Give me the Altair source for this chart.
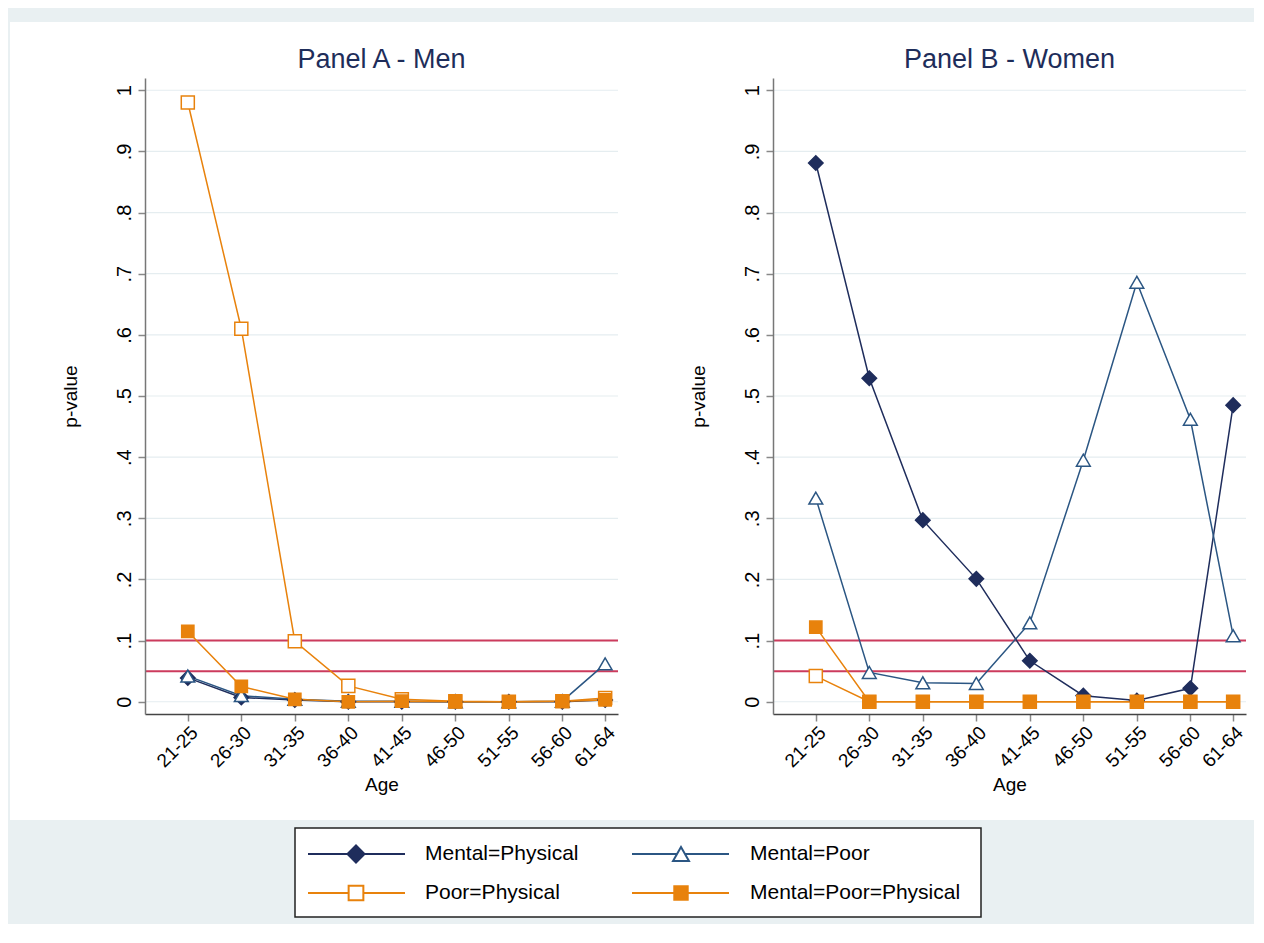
import altair as alt
import pandas as pd

# ---------------- data ----------------
age_groups = ["21-25", "26-30", "31-35", "36-40", "41-45", "46-50", "51-55", "56-60", "61-64"]
age_mid = [23, 28, 33, 38, 43, 48, 53, 58, 62]
series_names = ["Mental=Physical", "Mental=Poor", "Poor=Physical", "Mental=Poor=Physical"]
panel_titles = ["Panel A - Men", "Panel B - Women"]

men_mental_physical = [0.039, 0.007, 0.003, 0.000, 0.000, 0.000, 0.000, 0.000, 0.003]
men_mental_poor = [0.042, 0.010, 0.004, 0.001, 0.001, 0.000, 0.000, 0.001, 0.062]
men_poor_physical = [0.980, 0.610, 0.099, 0.026, 0.004, 0.001, 0.000, 0.001, 0.006]
men_all_equal = [0.115, 0.025, 0.004, 0.000, 0.001, 0.000, 0.000, 0.001, 0.003]

women_mental_physical = [0.881, 0.529, 0.297, 0.201, 0.067, 0.010, 0.002, 0.022, 0.485]
women_mental_poor = [0.333, 0.048, 0.031, 0.030, 0.129, 0.395, 0.686, 0.462, 0.108]
women_poor_physical = [0.042, 0.000, 0.000, 0.000, 0.000, 0.000, 0.000, 0.000, 0.000]
women_all_equal = [0.122, 0.000, 0.000, 0.000, 0.000, 0.000, 0.000, 0.000, 0.000]

thresholds = [0.1, 0.05]
y_ticks = [0, 0.1, 0.2, 0.3, 0.4, 0.5, 0.6, 0.7, 0.8, 0.9, 1.0]

# ---------------- styles ----------------
FONT = "Liberation Sans"
BG = "#e9f0f2"
NAVY = "#1f2d5c"
BLUE = "#2b5683"
ORANGE = "#e8820c"
series_colors = [NAVY, BLUE, ORANGE, ORANGE]
series_shapes = ["diamond", "triangle-up", "square", "square"]
series_fills = [NAVY, "white", "white", ORANGE]
series_sizes = [210, 150, 130, 130]
legend_sizes = [290, 180, 135, 135]

W, H = 473, 636


def long_df(vals):
    rows = []
    for s, v in zip(series_names, vals):
        for a, m, y in zip(age_groups, age_mid, v):
            rows.append({"series": s, "age": a, "age_mid": m, "value": y})
    return pd.DataFrame(rows)


label_expr = ""
for m, a in zip(age_mid, age_groups):
    label_expr += f"datum.value == {m} ? '{a}' : "
label_expr += "''"

x_scale = alt.Scale(domain=[19, 63.2], nice=False, zero=False)
y_scale = alt.Scale(domain=[-0.02, 1.02], nice=False, zero=False)

x_axis = alt.Axis(values=age_mid, labelExpr=label_expr, labelAngle=-45, labelFontSize=19,
                  labelColor="black", labelPadding=2, labelOverlap=False, labelFlush=False,
                  title="Age", titleFontSize=19, titleFontWeight="normal", titleColor="black",
                  titlePadding=5, tickSize=7, tickColor="#888888", tickWidth=1.5,
                  domainColor="#444444", domainWidth=1.5, grid=False, zindex=1)
y_axis = alt.Axis(values=y_ticks,
                  labelExpr="datum.value == 0 ? '0' : datum.value == 1 ? '1' : replace(format(datum.value, '.1f'), '0.', '.')",
                  labelAngle=-90, labelFontSize=20, labelColor="black", labelPadding=4,
                  labelOverlap=False, labelFlush=False,
                  title="p-value", titleFontSize=19, titleFontWeight="normal", titleColor="black",
                  titlePadding=34, tickSize=7, tickColor="#888888", tickWidth=1.5,
                  domainColor="#777777", domainWidth=1.5, grid=False, zindex=1)

color_scale = alt.Scale(domain=series_names, range=series_colors)
shape_scale = alt.Scale(domain=series_names, range=series_shapes)
fill_scale = alt.Scale(domain=series_names, range=series_fills)


def core(vals, title, rect_x, rect_x2):
    df = long_df(vals)
    bg = alt.Chart(pd.DataFrame({"d": [0]})).mark_rect(color="white").encode(
        x=alt.value(rect_x), x2=alt.value(rect_x2), y=alt.value(-56), y2=alt.value(742))
    grid = alt.Chart(pd.DataFrame({"v": y_ticks})).mark_rule(color="#e5edf0", strokeWidth=1.2).encode(
        y=alt.Y("v:Q", scale=y_scale, axis=y_axis), x=alt.value(0), x2=alt.value(W))
    thr = alt.Chart(pd.DataFrame({"v": thresholds})).mark_rule(color="#cc3b5d", strokeWidth=2).encode(
        y=alt.Y("v:Q", scale=y_scale, axis=y_axis), x=alt.value(0), x2=alt.value(W))
    lines = alt.Chart(df).mark_line(strokeWidth=1.5).encode(
        x=alt.X("age_mid:Q", scale=x_scale, axis=x_axis),
        y=alt.Y("value:Q", scale=y_scale, axis=y_axis),
        color=alt.Color("series:N", scale=color_scale, legend=None),
        order="age_mid:Q")
    pts = alt.Chart(df).mark_point(strokeWidth=1.5, opacity=1, fillOpacity=1).encode(
        x=alt.X("age_mid:Q", scale=x_scale, axis=x_axis),
        y=alt.Y("value:Q", scale=y_scale, axis=y_axis),
        shape=alt.Shape("series:N", scale=shape_scale, legend=None),
        stroke=alt.Stroke("series:N", scale=color_scale, legend=None),
        fill=alt.Fill("series:N", scale=fill_scale, legend=None),
        size=alt.Size("series:N", scale=alt.Scale(domain=series_names, range=series_sizes), legend=None))
    ttl = alt.Chart(pd.DataFrame({"t": [title]})).mark_text(
        fontSize=27, color="#1e2d5a", baseline="alphabetic", align="center").encode(
        x=alt.value(W / 2), y=alt.value(-10), text="t:N")
    return alt.layer(bg, grid, thr, lines, pts, ttl)


# ---------------- legend (drawn below panel A, positions relative to panel A plot) ----------------
LX, LY = 150, 750  # legend box origin relative to panel A plot area
leg = pd.DataFrame({"series": series_names, "col": [0, 1, 0, 1], "row": [0, 0, 1, 1]})
leg["x1"] = LX + 13 + leg["col"] * 324
leg["x2"] = LX + 110 + leg["col"] * 324
leg["xm"] = LX + 61 + leg["col"] * 325
leg["xt"] = LX + 130 + leg["col"] * 325
leg["y"] = LY + 26 + leg["row"] * 39

leg_box = alt.Chart(pd.DataFrame({"d": [0]})).mark_rect(
    fill="white", stroke="#222222", strokeWidth=1.5).encode(
    x=alt.value(LX), x2=alt.value(LX + 686), y=alt.value(LY), y2=alt.value(LY + 89))
leg_lines = alt.Chart(leg).mark_rule(strokeWidth=2).encode(
    x=alt.X("x1:Q", scale=None), x2="x2:Q", y=alt.Y("y:Q", scale=None),
    color=alt.Color("series:N", scale=color_scale, legend=None))
leg_pts = alt.Chart(leg).mark_point(strokeWidth=2, opacity=1, fillOpacity=1).encode(
    x=alt.X("xm:Q", scale=None), y=alt.Y("y:Q", scale=None),
    shape=alt.Shape("series:N", scale=shape_scale, legend=None),
    stroke=alt.Stroke("series:N", scale=color_scale, legend=None),
    fill=alt.Fill("series:N", scale=fill_scale, legend=None),
    size=alt.Size("series:N", scale=alt.Scale(domain=series_names, range=legend_sizes), legend=None))
leg_text = alt.Chart(leg).mark_text(align="left", baseline="middle", fontSize=21, color="black").encode(
    x=alt.X("xt:Q", scale=None), y=alt.Y("y:Q", scale=None), text="series:N")
legend_layer = alt.layer(leg_box, leg_lines, leg_pts, leg_text)

pA = alt.layer(
    core([men_mental_physical, men_mental_poor, men_poor_physical, men_all_equal], panel_titles[0], -135, 545),
    legend_layer,
).resolve_scale(x="independent", y="independent", size="independent").properties(
    width=W, height=H, view=alt.ViewBackground(stroke=None))

pB = core([women_mental_physical, women_mental_poor, women_poor_physical, women_all_equal],
          panel_titles[1], -83, 481).properties(width=W, height=H, view=alt.ViewBackground(stroke=None))

chart = alt.hconcat(pA, pB, spacing=155, bounds="flush").properties(
    background=BG,
    padding={"left": 2, "top": 14, "right": 0, "bottom": 6},
).configure(font=FONT).configure_view(stroke=None)

chart.save("out.html", embed_options={"renderer": "svg", "actions": False})
